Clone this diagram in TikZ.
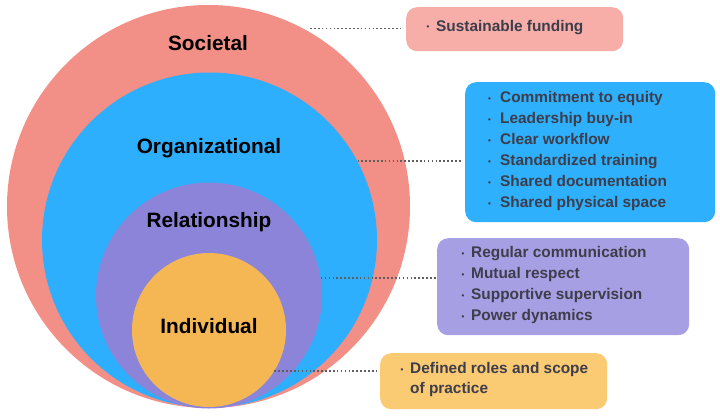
\documentclass[tikz,border=0pt]{standalone}
\usepackage{fontspec}
\setmainfont{Liberation Sans}
\definecolor{socC}{HTML}{F28F86}
\definecolor{orgC}{HTML}{2EAFFD}
\definecolor{relC}{HTML}{8B84D8}
\definecolor{indC}{HTML}{F5B754}
\definecolor{socB}{HTML}{F7ADA8}
\definecolor{orgB}{HTML}{2EB0FC}
\definecolor{relB}{HTML}{A79FE3}
\definecolor{indB}{HTML}{FBCB74}
\definecolor{txtC}{HTML}{3D3D4B}
\definecolor{dotC}{HTML}{5E5E5E}
\newcommand{\bul}{\makebox[9.5pt][l]{\raisebox{1.5pt}{\fontsize{8}{8}\selectfont •}}}
\newcommand{\bulw}{\makebox[12pt][l]{\raisebox{1.5pt}{\fontsize{8}{8}\selectfont •}}}
\begin{document}
\begin{tikzpicture}[x=1pt,y=-1pt,
  ring/.style={circle,inner sep=0pt,minimum size=#1},
  lvl/.style={font=\fontsize{20.8}{24}\selectfont\bfseries,text=black},
  boxx/.style={rounded corners=11pt,inner sep=0pt,anchor=north west},
  lst/.style={font=\fontsize{15.4}{21}\selectfont\bfseries,text=txtC,align=left,anchor=west,inner sep=0pt},
  dotline/.style={dotC,line width=1.8pt,dash pattern=on 1.6pt off 2.3pt}]
\useasboundingbox (0,0) rectangle (720,418);
% circles
\node[ring=403pt,fill=socC] (soc) at (208.5,206.5) {};
\node[ring=335pt,fill=orgC] (org) at (209.5,240) {};
\node[ring=226pt,fill=relC] (rel) at (209,295.5) {};
\node[ring=154pt,fill=indC] (ind) at (209,330) {};
% labels
\node[lvl] (tsoc) at (208,43) {Societal};
\node[lvl] (torg) at (209,148) {Organizational};
\node[lvl] (trel) at (209,222) {Relationship};
\node[lvl] (tind) at (209,326) {Individual};
% boxes
\node[boxx,fill=socB,minimum width=217pt,minimum height=44pt] (b1) at (406,7) {};
\node[boxx,fill=orgB,minimum width=250pt,minimum height=140pt] (b2) at (465,82) {};
\node[boxx,fill=relB,minimum width=252pt,minimum height=97pt] (b3) at (437,238) {};
\node[boxx,fill=indB,minimum width=227pt,minimum height=56pt] (b4) at (380,353) {};
% lists
\node[lst] (l1) at (426.5,27.5) {\bul Sustainable funding};
\node[lst] (l2) at (488,151.5) {\bulw Commitment to equity\\
\bulw Leadership buy-in\\
\bulw Clear workflow\\
\bulw Standardized training\\
\bulw Shared documentation\\
\bulw Shared physical space};
\node[lst] (l3) at (461.5,285.5) {\bul Regular communication\\
\bul Mutual respect\\
\bul Supportive supervision\\
\bul Power dynamics};
\node[lst,font=\fontsize{15.4}{20}\selectfont\bfseries] (l4) at (400.5,380) {\bul Defined roles and scope\\
\hspace*{9.5pt}of practice};
% connectors
\draw[dotline,shorten <=7pt,shorten >=3pt] (soc.62.5) -- (soc.62.5 -| b1.west);
\draw[dotline,shorten >=3pt] (org.28.6) -- (org.28.6 -| b2.west);
\draw[dotline,shorten >=1pt] (rel.9.4) -- (rel.9.4 -| b3.west);
\draw[dotline,shorten >=2pt] (ind.-32.2) -- (ind.-32.2 -| b4.west);
\end{tikzpicture}
\end{document}
